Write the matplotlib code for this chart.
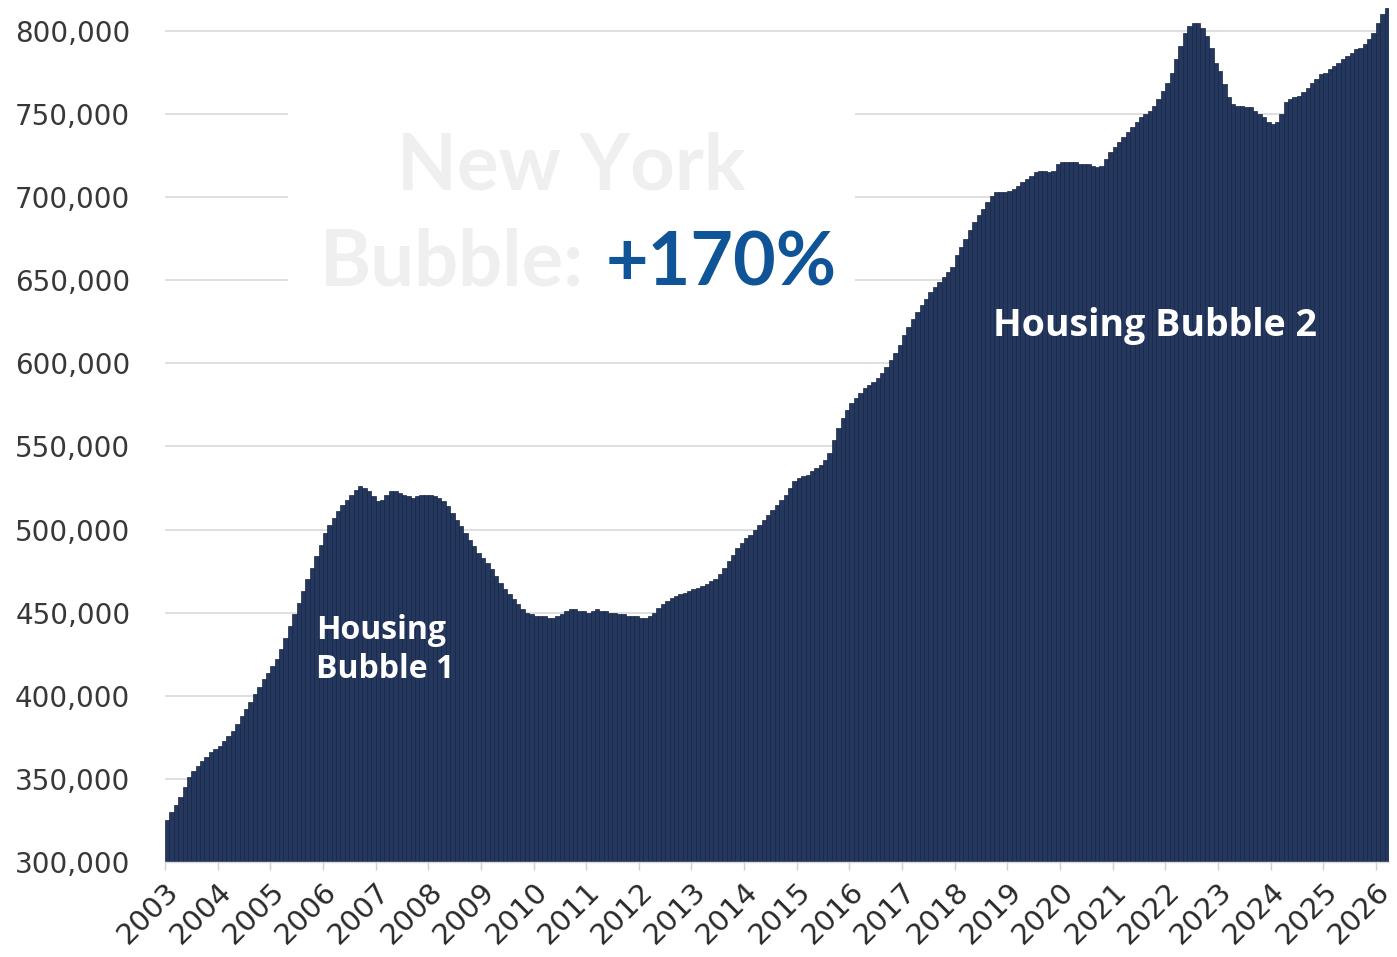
import matplotlib
matplotlib.use("Agg")
import matplotlib.pyplot as plt
from matplotlib.patches import Rectangle
import numpy as np

# Monthly median price (thousands of dollars), Jan 2003 - Mar 2026
v2003 = [325, 330, 334, 339, 345, 351, 355, 358, 361, 363, 366, 368]
v2004 = [370, 373, 376, 379, 383, 388, 392, 396, 401, 405, 410, 414]
v2005 = [418, 422, 428, 435, 442, 449, 456, 463, 470, 477, 484, 491]
v2006 = [498, 503, 507, 511, 515, 518, 521, 524, 526, 525, 523, 520]
v2007 = [517, 518, 521, 523, 523, 522, 521, 520, 519, 520, 521, 521]
v2008 = [521, 520, 519, 517, 514, 510, 506, 502, 498, 494, 490, 486]
v2009 = [483, 480, 476, 472, 468, 464, 461, 458, 455, 452, 450, 449]
v2010 = [448, 448, 448, 447, 447, 448, 449, 451, 452, 452, 451, 451]
v2011 = [450, 451, 452, 451, 451, 450, 450, 449, 449, 448, 448, 448]
v2012 = [447, 447, 448, 450, 453, 455, 457, 459, 460, 461, 462, 463]
v2013 = [464, 465, 466, 467, 469, 470, 473, 477, 481, 485, 489, 492]
v2014 = [495, 497, 500, 503, 506, 509, 512, 515, 518, 521, 525, 529]
v2015 = [531, 532, 533, 535, 537, 539, 542, 546, 554, 561, 567, 572]
v2016 = [576, 579, 582, 585, 587, 589, 591, 594, 598, 602, 606, 611]
v2017 = [617, 622, 627, 631, 635, 639, 643, 646, 649, 652, 655, 658]
v2018 = [665, 670, 675, 680, 685, 689, 693, 697, 701, 703, 703, 703]
v2019 = [704, 705, 707, 709, 711, 713, 715, 716, 716, 715, 716, 720]
v2020 = [721, 721, 721, 721, 720, 720, 720, 719, 718, 719, 723, 727]
v2021 = [730, 733, 736, 739, 742, 745, 748, 750, 752, 755, 759, 764]
v2022 = [769, 775, 783, 791, 799, 803, 805, 805, 802, 797, 790, 781]
v2023 = [776, 768, 760, 756, 755, 755, 754, 754, 752, 750, 748, 745]
v2024 = [744, 745, 750, 757, 759, 760, 761, 763, 766, 769, 771, 774]
v2025 = [775, 777, 779, 781, 783, 785, 787, 789, 790, 792, 795, 799]
v2026 = [805, 810, 814]

years = [str(y) for y in range(2003, 2027)]
ytick_values = [300000, 350000, 400000, 450000, 500000, 550000,
                600000, 650000, 700000, 750000, 800000]

series = (v2003 + v2004 + v2005 + v2006 + v2007 + v2008 + v2009 + v2010 +
          v2011 + v2012 + v2013 + v2014 + v2015 + v2016 + v2017 + v2018 +
          v2019 + v2020 + v2021 + v2022 + v2023 + v2024 + v2025 + v2026)
values = np.array(series) * 1000.0
n = len(values)

W, H = 1397, 957
fig = plt.figure(figsize=(W / 100, H / 100), dpi=100)
ax = fig.add_axes([165 / W, 1 - 862 / H, (1389 - 165) / W, 862 / H])

x = np.arange(n)
ax.bar(x, values - 300000, bottom=300000, width=1.0, color="#23375f",
       edgecolor="#18243f", linewidth=0.5, zorder=2)

ax.set_xlim(-0.5, n - 0.5)
ax.set_ylim(300000, 818650)

ax.set_yticks(ytick_values)
ax.set_yticklabels([f"{v:,.0f}" for v in ytick_values], fontsize=20,
                   color="#383838", family="DejaVu Sans")
ax.tick_params(axis="y", length=0, pad=25)
ax.yaxis.grid(True, color="#d9d9d9", linewidth=1.2, zorder=0)
ax.set_axisbelow(True)

xt = [12 * k - 0.5 for k in range(len(years))]
ax.set_xticks(xt)
ax.set_xticklabels(years, fontsize=21, color="#2a2a2a", family="DejaVu Sans",
                   rotation=45, ha="right", va="top", rotation_mode="anchor")
ax.tick_params(axis="x", length=6, width=1, color="#d0d0d0", pad=5)

for s in ["top", "right", "left"]:
    ax.spines[s].set_visible(False)
ax.spines["bottom"].set_color("#d9d9d9")
ax.spines["bottom"].set_linewidth(1.0)

# white panel behind the title that hides the gridlines
ax.add_patch(Rectangle((288 / W, 1 - 300 / H), (855 - 288) / W, (300 - 45) / H,
                       transform=fig.transFigure, facecolor="white",
                       edgecolor="none", zorder=1.5))

title_font = dict(family="Lato", fontweight="bold")
fig.text(571 / W, 1 - 190 / H, "New York", color="#efefef", ha="center",
         va="baseline", fontsize=56, **title_font)
fig.text(584 / W, 1 - 285 / H, "Bubble:", color="#efefef", ha="right",
         va="baseline", fontsize=56, **title_font)
fig.text(606 / W, 1 - 285 / H, "+170%", color="#0e5496", ha="left",
         va="baseline", fontsize=53, **title_font)

fig.text(993 / W, 1 - 336 / H, "Housing Bubble 2", color="white",
         family="Open Sans", fontweight="bold", fontsize=27, ha="left",
         va="baseline", zorder=5)
fig.text(316 / W, 1 - 678 / H, "Housing\nBubble 1", color="white",
         family="Open Sans", fontweight="bold", fontsize=23, ha="left",
         va="baseline", linespacing=1.25, zorder=5)

fig.savefig("out.png", dpi=100, facecolor="white")
